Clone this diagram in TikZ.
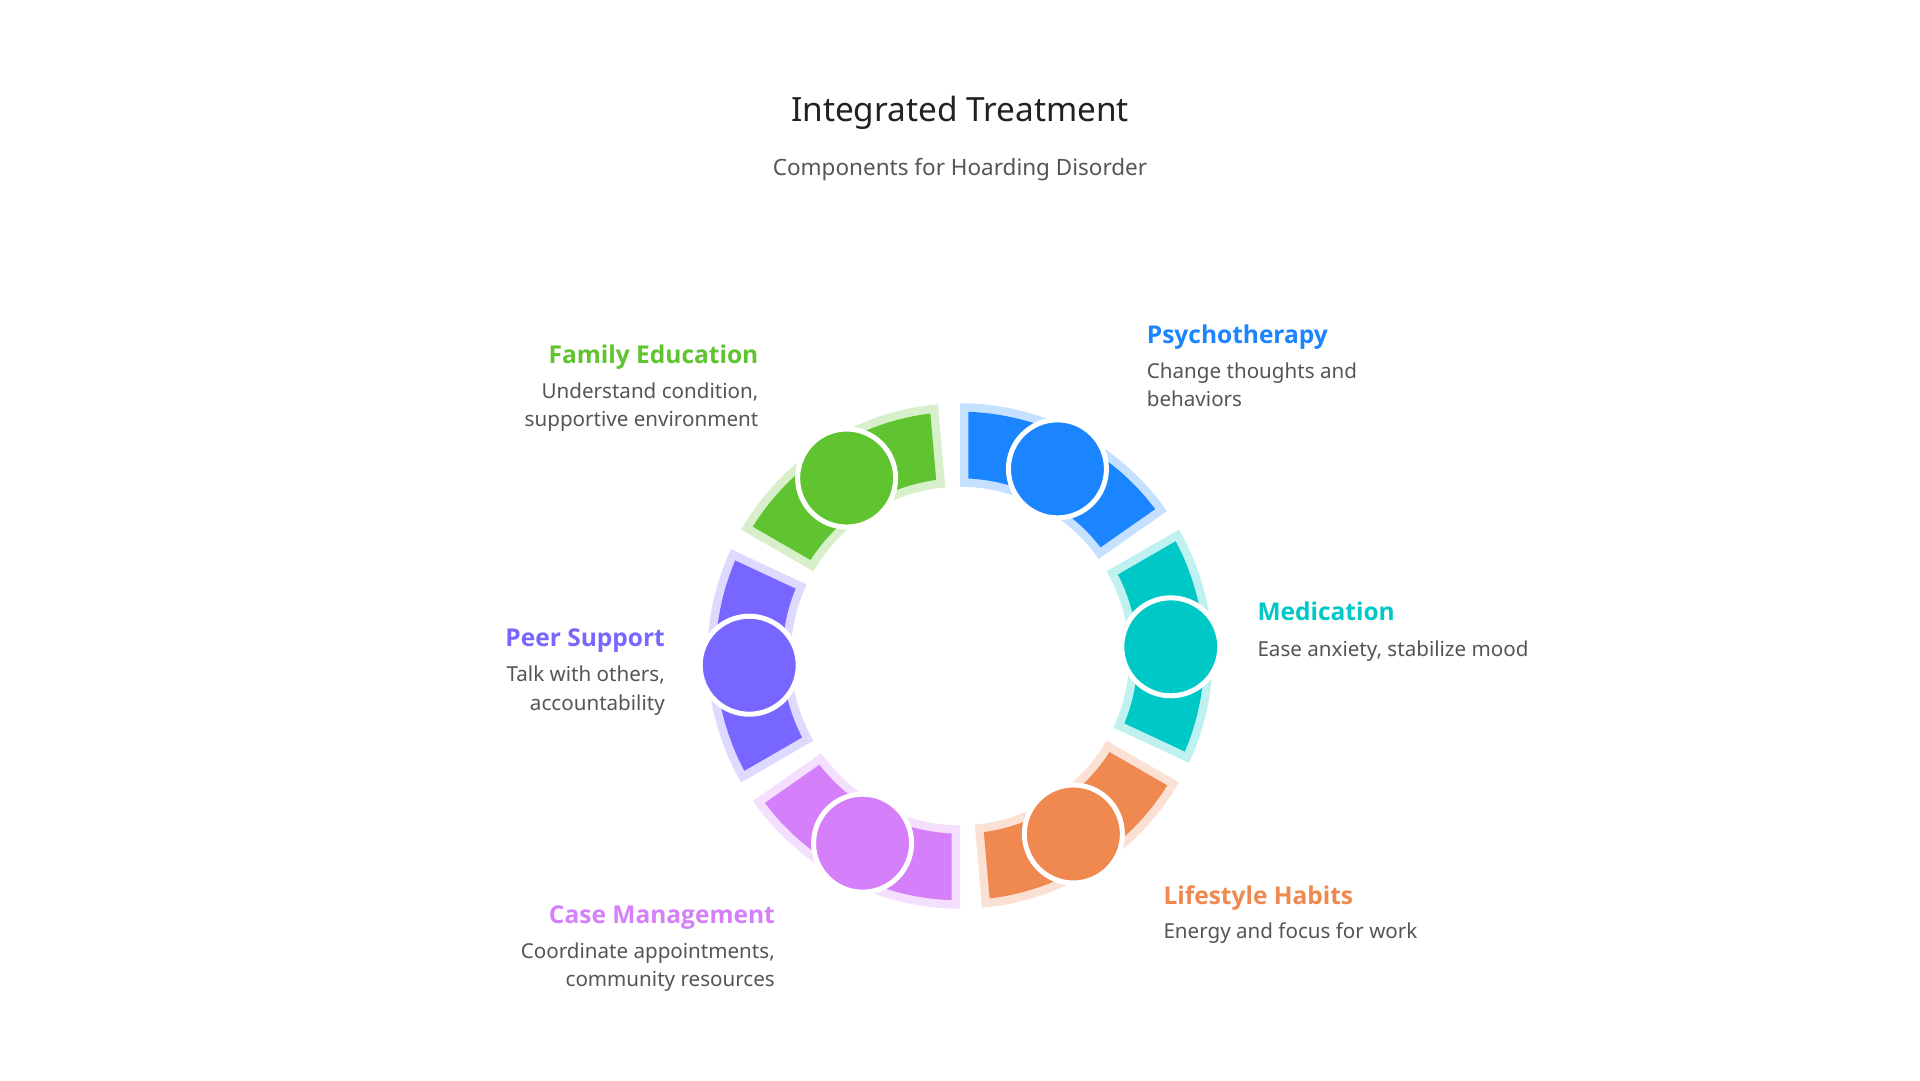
\documentclass[tikz,border=0pt]{standalone}
\usepackage{fontspec}
\setmainfont{Noto Sans}
\newfontfamily\hdfont{Open Sans}
\definecolor{cblue}{HTML}{1A85FF}
\definecolor{cteal}{HTML}{00C8C6}
\definecolor{corange}{HTML}{F0894F}
\definecolor{cpink}{HTML}{D580FA}
\definecolor{cpurple}{HTML}{7766FF}
\definecolor{cgreen}{HTML}{5FC42F}
\definecolor{ctitle}{HTML}{222222}
\definecolor{cdesc}{HTML}{555555}
\newcommand{\RingSeg}[2]{%
  \pgfmathsetmacro{\segAS}{#1}%
  \pgfmathsetmacro{\segAE}{#1+55}%
  \pgfmathsetmacro{\segBS}{#1+1.97}%
  \pgfmathsetmacro{\segBE}{#1+55-1.97}%
  \pgfmathsetmacro{\segCS}{#1+2.71}%
  \pgfmathsetmacro{\segCE}{#1+55-2.71}%
  \fill[#2!25!white] (\segAS:252.7pt) arc[start angle=\segAS, end angle=\segAE, radius=252.7pt]
    -- (\segAE:169.3pt) arc[start angle=\segAE, end angle=\segAS, radius=169.3pt] -- cycle;
  \fill[#2] (\segBS:244.3pt) arc[start angle=\segBS, end angle=\segBE, radius=244.3pt]
    -- (\segCE:177.7pt) arc[start angle=\segCE, end angle=\segCS, radius=177.7pt] -- cycle;
}
\begin{document}
\begin{tikzpicture}[x=1pt,y=1pt,
  hd/.style={font=\hdfont\bfseries\fontsize{24.5}{28}\selectfont, inner sep=0pt},
  ds/.style={font=\fontsize{20.6}{28}\selectfont, text=cdesc, inner sep=0pt},
  dot/.style={circle, minimum size=98pt, inner sep=0pt, draw=white, line width=5pt}]
\path[use as bounding box, fill=white] (0,0) rectangle (1920,-1080);
% titles
\node[font=\fontsize{33.4}{40}\selectfont, text=ctitle, inner sep=0pt, anchor=base] (title) at (960,-121) {Integrated Treatment};
\node[font=\fontsize{22.5}{26}\selectfont, text=cdesc, inner sep=0pt, anchor=base] (subtitle) at (960,-175) {Components for Hoarding Disorder};
% ring
\begin{scope}[shift={(960,-656)}]
  \RingSeg{35}{cblue}
  \RingSeg{95}{cgreen}
  \RingSeg{155}{cpurple}
  \RingSeg{215}{cpink}
  \RingSeg{275}{corange}
  \RingSeg{335}{cteal}
  \node[dot, fill=cblue] (dPsy) at (62.5:211pt) {};
  \node[dot, fill=cgreen] (dFam) at (122.5:211pt) {};
  \node[dot, fill=cpurple] (dPeer) at (182.5:211pt) {};
  \node[dot, fill=cpink] (dCase) at (242.5:211pt) {};
  \node[dot, fill=corange] (dLife) at (302.5:211pt) {};
  \node[dot, fill=cteal] (dMed) at (2.5:211pt) {};
\end{scope}
% labels
\node[hd, text=cblue, anchor=base west] (tPsy) at (1146.7,-343.3) {Psychotherapy};
\node[ds, anchor=base west] (tPsyA) at (1146.7,-378.3) {Change thoughts and};
\node[ds, anchor=base west] (tPsyB) at (1146.7,-406.7) {behaviors};

\node[hd, text=cteal, anchor=base west] (tMed) at (1257.3,-620.7) {Medication};
\node[ds, anchor=base west] (tMedA) at (1257.3,-656) {Ease anxiety, stabilize mood};

\node[hd, text=corange, anchor=base west] (tLife) at (1163.3,-904) {Lifestyle Habits};
\node[ds, anchor=base west] (tLifeA) at (1163.3,-938.3) {Energy and focus for work};

\node[hd, text=cpink, anchor=base east] (tCase) at (775,-923.3) {Case Management};
\node[ds, anchor=base east] (tCaseA) at (775,-958.3) {Coordinate appointments,};
\node[ds, anchor=base east] (tCaseB) at (775,-986.7) {community resources};

\node[hd, text=cpurple, anchor=base east] (tPeer) at (665,-646) {Peer Support};
\node[ds, anchor=base east] (tPeerA) at (665,-681.7) {Talk with others,};
\node[ds, anchor=base east] (tPeerB) at (665,-710) {accountability};

\node[hd, text=cgreen, anchor=base east] (tFam) at (758.5,-363) {Family Education};
\node[ds, anchor=base east] (tFamA) at (758.5,-398) {Understand condition,};
\node[ds, anchor=base east] (tFamB) at (758.5,-426) {supportive environment};
\end{tikzpicture}
\end{document}
